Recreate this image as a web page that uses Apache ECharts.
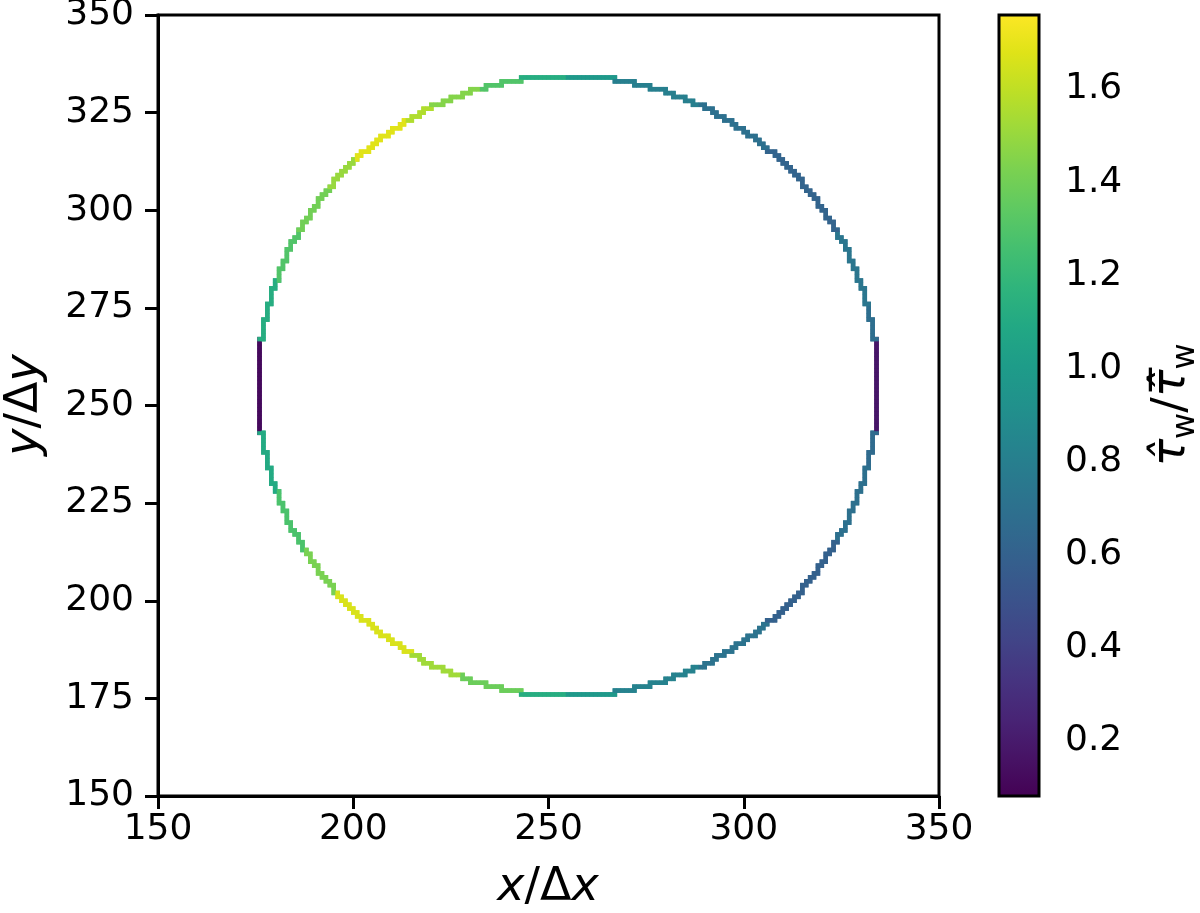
<!DOCTYPE html>
<html>
<head>
<meta charset="utf-8">
<script src="https://cdn.jsdelivr.net/npm/echarts@6/dist/echarts.min.js"></script>
<style>
  body { margin: 0; background: #fff; }
  #myChart { width: 1200px; height: 913px; }
</style>
</head>
<body>
<div id="myChart"></div>
<script>
// axis ticks
const xTicks = [150, 200, 250, 300, 350];
const yTicks = [150, 175, 200, 225, 250, 275, 300, 325, 350];
const cbTicks = [0.2, 0.4, 0.6, 0.8, 1.0, 1.2, 1.4, 1.6];
const cbMin = 0.082;
const cbMax = 1.759;

// cylinder outline (cell units)
const circleCenter = [255, 255];
const circleRadius = 79.4;

// wall shear ratio along the outline, read per angular segment (deg, CCW from +x)
const segStartDeg = [0, 8.5, 15, 30, 50, 65, 81.5, 90, 98.5, 106, 116, 121, 133, 140, 150, 160,
  171.5, 188.5, 200, 212, 222, 240, 250, 261.5, 270, 278.5, 295, 310, 330, 345, 351.5];
const segValue = [0.18, 0.68, 0.74, 0.62, 0.70, 0.80, 0.98, 1.12, 1.30, 1.45, 1.56, 1.68, 1.50, 1.40, 1.30, 1.12,
  0.12, 1.10, 1.28, 1.42, 1.66, 1.52, 1.38, 1.12, 0.98, 0.82, 0.72, 0.60, 0.70, 0.66, 0.18];

const viridis = ['#440154', '#471365', '#482475', '#463480', '#414487', '#3b528b', '#355f8d',
  '#2f6c8e', '#2a788e', '#25848e', '#21918c', '#1e9c89', '#22a884', '#2fb47c', '#44bf70',
  '#5ec962', '#7ad151', '#9bd93c', '#bddf26', '#dfe318', '#fde725'];

function valueAt(x, y) {
  let deg = Math.atan2(y - circleCenter[1], x - circleCenter[0]) * 180 / Math.PI;
  if (deg < 0) deg += 360;
  let v = segValue[0];
  for (let k = 0; k < segStartDeg.length; k++) {
    if (deg >= segStartDeg[k]) v = segValue[k];
  }
  return v;
}

function inside(i, j) {
  const dx = i + 0.5 - circleCenter[0];
  const dy = j + 0.5 - circleCenter[1];
  return dx * dx + dy * dy <= circleRadius * circleRadius;
}

// staircase edges between solid and fluid cells
const edges = [];
for (let i = 160; i < 350; i++) {
  for (let j = 160; j < 350; j++) {
    if (!inside(i, j)) continue;
    if (!inside(i - 1, j)) edges.push([i, j, i, j + 1]);
    if (!inside(i + 1, j)) edges.push([i + 1, j, i + 1, j + 1]);
    if (!inside(i, j - 1)) edges.push([i, j, i + 1, j]);
    if (!inside(i, j + 1)) edges.push([i, j + 1, i + 1, j + 1]);
  }
}
const edgeData = edges.map(e => e.concat(valueAt((e[0] + e[2]) / 2, (e[1] + e[3]) / 2)));

const font = 'DejaVu Sans';
const axisCommon = {
  axisLine: { show: true, onZero: false, lineStyle: { color: '#000', width: 3 } },
  axisTick: { show: true, inside: false, length: 13, lineStyle: { color: '#000', width: 3 } },
  splitLine: { show: false },
};

let myChart = echarts.init(document.getElementById('myChart'));
myChart.setOption({
  animation: false,
  backgroundColor: '#fff',
  textStyle: { fontFamily: font },
  grid: [
    { left: 158, top: 15, width: 781, height: 781, show: true, borderColor: '#000', borderWidth: 3,
      containLabel: false, outerBoundsMode: 'none' },
    { left: 999, top: 15, width: 40, height: 781, containLabel: false, outerBoundsMode: 'none' }
  ],
  xAxis: [
    Object.assign({ type: 'value', gridIndex: 0, min: 150, max: 350, interval: 50,
      axisLabel: { fontSize: 36, color: '#000', margin: 16, fontFamily: font } }, axisCommon),
    { type: 'value', gridIndex: 1, min: 0, max: 1, show: false }
  ],
  yAxis: [
    Object.assign({ type: 'value', gridIndex: 0, min: 150, max: 350, interval: 25,
      axisLabel: { fontSize: 36, color: '#000', margin: 24, fontFamily: font } }, axisCommon),
    { type: 'value', gridIndex: 1, position: 'right', min: cbMin, max: cbMax,
      axisLine: { show: false },
      axisTick: { show: true, inside: false, length: 13, customValues: cbTicks, lineStyle: { color: '#000', width: 3 } },
      axisLabel: { customValues: cbTicks, fontSize: 36, color: '#000', margin: 26, fontFamily: font,
        formatter: v => v.toFixed(1) },
      splitLine: { show: false } }
  ],
  visualMap: {
    type: 'continuous', show: false, seriesIndex: 0, dimension: 4,
    min: cbMin, max: cbMax, inRange: { color: viridis }
  },
  series: [
    {
      type: 'custom',
      xAxisIndex: 0, yAxisIndex: 0,
      encode: { x: [0, 2], y: [1, 3] },
      data: edgeData,
      renderItem: function (params, api) {
        const p1 = api.coord([api.value(0), api.value(1)]);
        const p2 = api.coord([api.value(2), api.value(3)]);
        return {
          type: 'line',
          shape: { x1: p1[0], y1: p1[1], x2: p2[0], y2: p2[1] },
          style: { stroke: api.visual('color'), lineWidth: 4.5, lineCap: 'square' }
        };
      }
    },
    {
      type: 'custom',
      xAxisIndex: 1, yAxisIndex: 1,
      data: [[0, cbMin, 1, cbMax]],
      renderItem: function (params, api) {
        const a = api.coord([api.value(0), api.value(3)]);
        const b = api.coord([api.value(2), api.value(1)]);
        const stops = viridis.map((c, k) => ({ offset: k / (viridis.length - 1), color: c }));
        return {
          type: 'rect',
          shape: { x: a[0], y: a[1], width: b[0] - a[0], height: b[1] - a[1] },
          style: { fill: new echarts.graphic.LinearGradient(0, 1, 0, 0, stops), stroke: '#000', lineWidth: 3 }
        };
      }
    }
  ],
  graphic: [
    {
      type: 'text', x: 548, y: 888,
      style: {
        text: '{i|x}{n|/Δ}{i|x}', align: 'center', verticalAlign: 'middle',
        rich: {
          i: { fontStyle: 'italic', fontSize: 46, fontFamily: font, fill: '#000' },
          n: { fontSize: 46, fontFamily: font, fill: '#000' }
        }
      }
    },
    {
      type: 'text', x: 25, y: 405, rotation: Math.PI / 2,
      style: {
        text: '{i|y}{n|/Δ}{i|y}', align: 'center', verticalAlign: 'middle',
        rich: {
          i: { fontStyle: 'italic', fontSize: 46, fontFamily: font, fill: '#000' },
          n: { fontSize: 46, fontFamily: font, fill: '#000' }
        }
      }
    },
    {
      type: 'text', x: 1172, y: 405, rotation: Math.PI / 2,
      style: {
        text: '{t|τ\u0302}{s|w}{n|/}{t|τ\u0302\u0305}{s|w}', align: 'center', verticalAlign: 'middle',
        rich: {
          t: { fontStyle: 'italic', fontSize: 46, lineHeight: 60, fontFamily: font, fill: '#000' },
          n: { fontSize: 46, lineHeight: 60, fontFamily: font, fill: '#000' },
          s: { fontSize: 32, lineHeight: 32, verticalAlign: 'bottom', fontFamily: font, fill: '#000' }
        }
      }
    }
  ]
});
</script>
</body>
</html>
